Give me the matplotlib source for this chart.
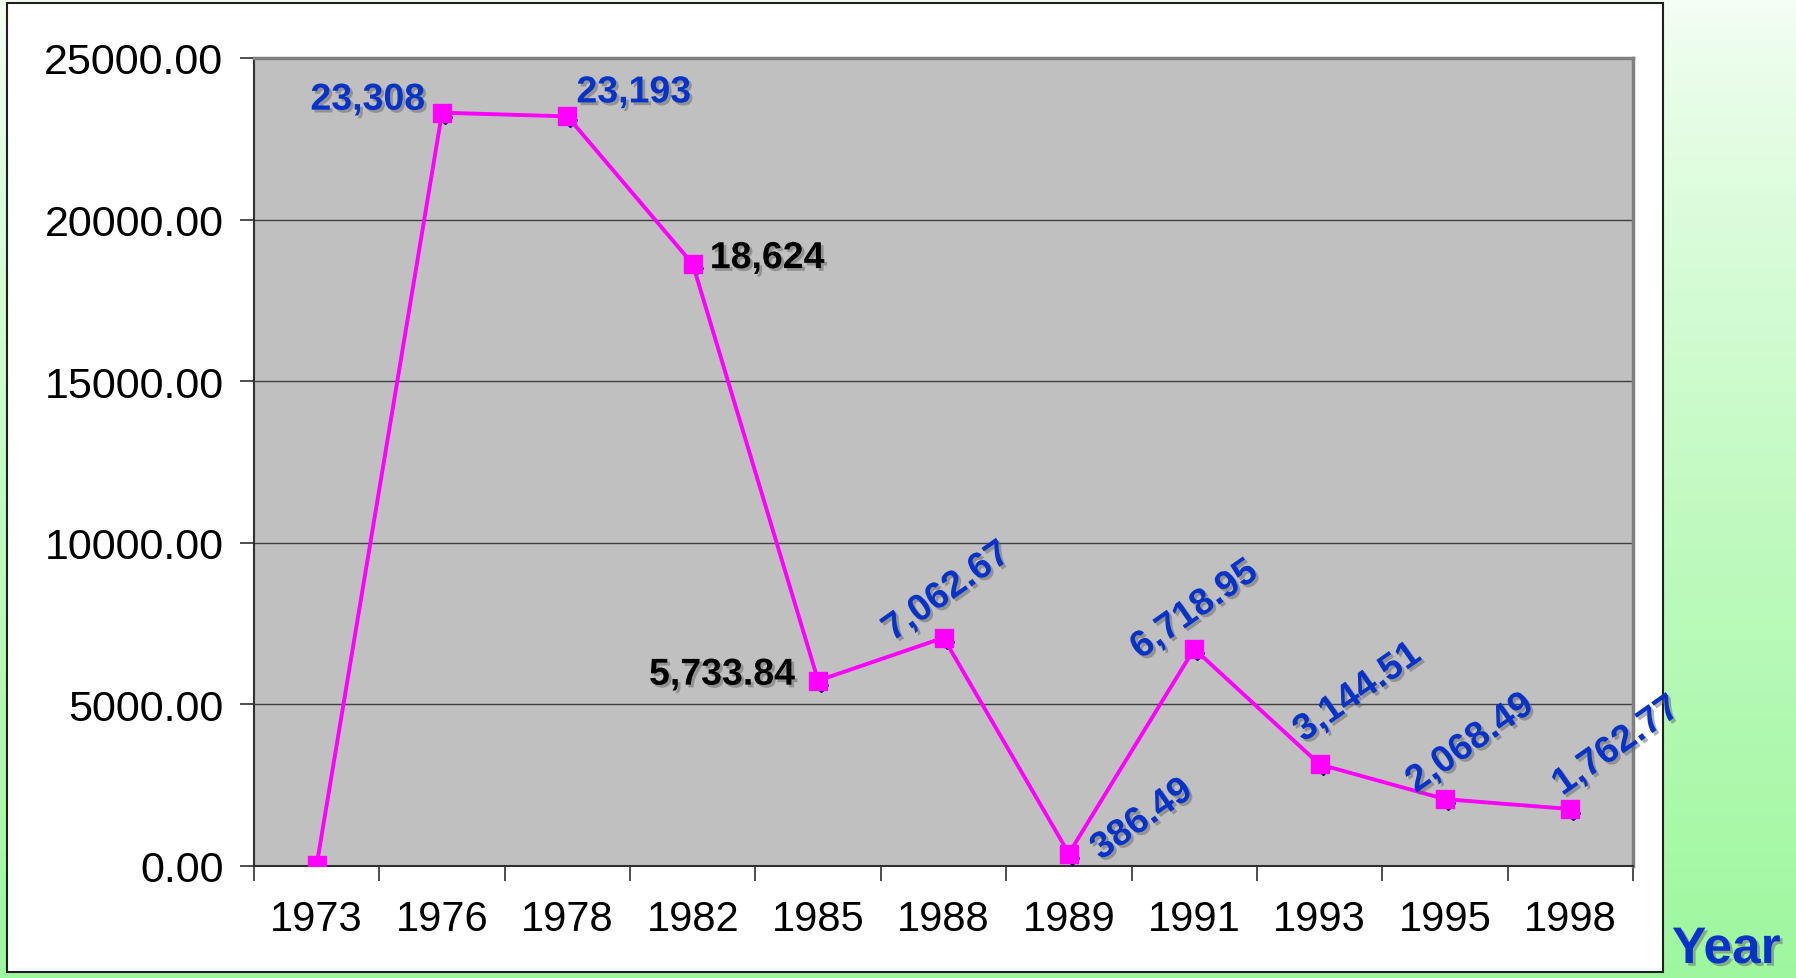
import numpy as np
import matplotlib
matplotlib.use("Agg")
import matplotlib.pyplot as plt
import matplotlib.patheffects as pe
from matplotlib.patches import Rectangle
from matplotlib.transforms import offset_copy

# data
years = ["1973", "1976", "1978", "1982", "1985", "1988", "1989", "1991", "1993", "1995", "1998"]
values = [30, 23308, 23193, 18624, 5733.84, 7062.67, 386.49, 6718.95, 3144.51, 2068.49, 1762.77]
labels = ["", "23,308", "23,193", "18,624", "5,733.84", "7,062.67", "386.49",
          "6,718.95", "3,144.51", "2,068.49", "1,762.77"]
yticks = [0, 5000, 10000, 15000, 20000, 25000]

BLUE = "#0833c8"
# label placement: (dx px, dy px, ha, rotation, colour)
lab_style = [
    None,
    (-17, 13, "right", 0, BLUE),
    (9, 24, "left", 0, BLUE),
    (17, 6, "left", 0, "black"),
    (-23, 6, "right", 0, "black"),
    (3, 46, "center", 35, BLUE),
    (73, 34, "center", 35, BLUE),
    (0, 39, "center", 35, BLUE),
    (38, 72, "center", 35, BLUE),
    (25, 56, "center", 35, BLUE),
    (46, 63, "center", 35, BLUE),
]

plt.rcParams['font.family'] = ['Liberation Sans', 'DejaVu Sans']

W, H = 1796, 979
fig = plt.figure(figsize=(W / 100, H / 100), dpi=100)

# green gradient background
bg = fig.add_axes([0, 0, 1, 1], zorder=-10)
grad = np.linspace(0, 1, 256)[:, None]
top = np.array([0.96, 0.995, 0.96])
bot = np.array([0.62, 0.97, 0.62])
img = top[None, None, :] * (1 - grad[..., None] ** 0.8) + bot[None, None, :] * grad[..., None] ** 0.8
bg.imshow(img, aspect="auto", extent=[0, 1, 0, 1], origin="upper")
bg.add_patch(Rectangle((7 / W, 1 - 973 / H), (1663 - 7) / W, (973 - 4) / H,
                       facecolor="white", edgecolor="#202020", lw=1.5))
bg.set_xlim(0, 1)
bg.set_ylim(0, 1)
bg.axis("off")

ax = fig.add_axes([254 / W, 112 / H, (1633 - 254) / W, (868 - 60) / H])
ax.set_facecolor("#c0c0c0")
x = np.arange(len(years))

shift = offset_copy(ax.transData, fig=fig, x=3, y=-4, units="dots")
ax.plot(x, values, ls="none", marker="D", ms=7, color="#000066", transform=shift, zorder=3)
ax.plot(x, values, color="#ff00ff", lw=2.8, marker="s", ms=13, mec="#ff00ff", zorder=4)

ax.set_xlim(-0.5, len(years) - 0.5)
ax.set_ylim(0, 25000)
ax.set_yticks(yticks)
ax.set_yticklabels([f"{v:.2f}" for v in yticks])
ax.yaxis.grid(True, color="#404040", lw=1.0)
ax.set_axisbelow(True)

ax.set_xticks(np.arange(-0.5, len(years)))
ax.set_xticklabels([])
ax.set_xticks(x, minor=True)
ax.set_xticklabels(years, minor=True)
ax.tick_params(axis="x", which="major", length=11, width=1.2, color="#303030")
ax.tick_params(axis="x", which="minor", length=0, pad=24, labelsize=30)
ax.tick_params(axis="y", length=10, width=1.2, color="#303030", pad=12, labelsize=31)

for s in ["left", "bottom"]:
    ax.spines[s].set_color("#303030")
    ax.spines[s].set_linewidth(1.5)
for s in ["top", "right"]:
    ax.spines[s].set_color("#808080")
    ax.spines[s].set_linewidth(2.5)

shadow = [pe.SimplePatchShadow(offset=(2, -2), shadow_rgbFace="#666666", alpha=0.5), pe.Normal()]
for i, lab in enumerate(labels):
    if not lab:
        continue
    dx, dy, ha, rot, col = lab_style[i]
    ax.annotate(lab, (x[i], values[i]), xytext=(dx, dy), textcoords="offset pixels",
                ha=ha, va="center", rotation=rot, rotation_mode="anchor",
                color=col, fontsize=27, fontweight="bold",
                path_effects=shadow, zorder=5)

fig.text(1672 / W, 1 - 926 / H, "Year", ha="left", va="top", color=BLUE,
         fontsize=37, fontweight="bold", path_effects=shadow)

fig.savefig("out.png", dpi=100)
